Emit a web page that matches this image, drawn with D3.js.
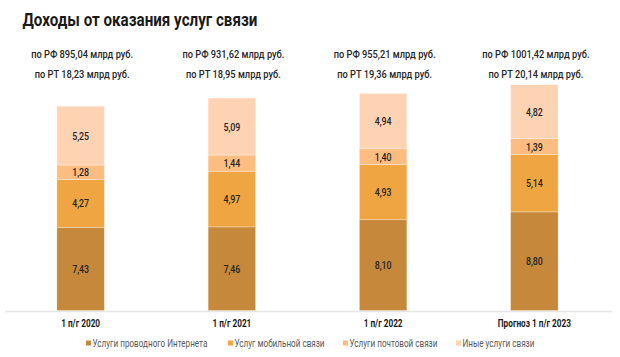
<!DOCTYPE html>
<html><head><meta charset="utf-8">
<script src="https://cdn.jsdelivr.net/npm/d3@7"></script>
<style>
html,body{margin:0;padding:0;background:#fff;}
svg{display:block;font-family:"Roboto","Noto Sans",sans-serif;}
</style></head>
<body>
<svg id="chart" width="620" height="357"></svg>
<script>
const categories = ["1 п/г 2020", "1 п/г 2021", "1 п/г 2022", "Прогноз 1 п/г 2023"];
const seriesNames = ["Услуги проводного Интернета", "Услуг мобильной связи", "Услуги почтовой связи", "Иные услуги связи"];
const internet = [7.43, 7.46, 8.10, 8.80];
const mobile   = [4.27, 4.97, 4.93, 5.14];
const postal   = [1.28, 1.44, 1.40, 1.39];
const other    = [5.25, 5.09, 4.94, 4.82];
const rfTotals = ["895,04", "931,62", "955,21", "1001,42"];
const rtTotals = ["18,23", "18,95", "19,36", "20,14"];
const colors = ["#C6883A", "#EFA542", "#FDBD80", "#FED3B3"];

const series = [internet, mobile, postal, other];
const rows = categories.map((c, i) => {
  const r = {cat: c};
  seriesNames.forEach((s, j) => r[s] = series[j][i]);
  return r;
});
const stacked = d3.stack().keys(seriesNames)(rows);

const svg = d3.select("#chart");
const x = d3.scaleBand().domain(categories).range([5, 610]).paddingInner(0.686).paddingOuter(0.343);
const yMax = d3.max(rows, r => d3.sum(seriesNames, s => r[s]));
const y = d3.scaleLinear().domain([0, yMax]).range([310.5, 84.7]);
const fmt = v => d3.format(".2f")(v).replace(".", ",");

// condensed text helper: scale horizontally so that a reference string matches a target width
function condense(sel, refNode, targetW) {
  const k = targetW / refNode.getComputedTextLength();
  sel.each(function() {
    const t = d3.select(this);
    const tx = +t.attr("data-x"), ty = +t.attr("data-y");
    t.attr("x", 0).attr("y", 0).attr("transform", `translate(${tx},${ty}) scale(${k},1)`);
  });
}
function txt(parent, x0, y0, s, cls) {
  return parent.append("text").attr("class", cls).attr("data-x", x0).attr("data-y", y0)
    .attr("x", x0).attr("y", y0).text(s);
}

// title
const title = txt(svg, 22.5, 26, "Доходы от оказания услуг связи", "title")
  .attr("font-size", 18).attr("font-weight", "bold").attr("fill", "#1a1a1a");
condense(svg.selectAll(".title"), title.node(), 235);

// axis baseline
svg.append("line").attr("x1", 5).attr("x2", 612).attr("y1", 311.5).attr("y2", 311.5)
  .attr("stroke", "#E6E6E6").attr("stroke-width", 1.5);

// bars
const g = svg.append("g");
stacked.forEach((layer, j) => {
  g.selectAll(null).data(layer).enter().append("rect")
    .attr("x", d => x(d.data.cat))
    .attr("width", x.bandwidth())
    .attr("y", d => y(d[1]))
    .attr("height", d => y(d[0]) - y(d[1]))
    .attr("fill", colors[j])
    .attr("stroke", "#ffffff").attr("stroke-opacity", 0.5).attr("stroke-width", 0.6);
  layer.forEach(d => {
    txt(g, x(d.data.cat) + x.bandwidth() / 2, (y(d[0]) + y(d[1])) / 2 + 4, fmt(d[1] - d[0]), "dl")
      .attr("text-anchor", "middle").attr("font-size", 11.5).attr("font-weight", 500).attr("fill", "#262626");
  });
});
const dlRef = g.selectAll(".dl").filter(function() { return this.textContent === "7,43"; }).node();
condense(g.selectAll(".dl"), dlRef, 17);

// totals above
categories.forEach((c, i) => {
  const cx = x(c) + x.bandwidth() / 2 + 1.5;
  txt(svg, cx, 58, "по РФ " + rfTotals[i] + " млрд руб.", "tot")
    .attr("text-anchor", "middle").attr("font-size", 11.5).attr("font-weight", 500).attr("fill", "#262626");
  txt(svg, cx, 78, "по РТ " + rtTotals[i] + " млрд руб.", "tot")
    .attr("text-anchor", "middle").attr("font-size", 11.5).attr("font-weight", 500).attr("fill", "#262626");
});
condense(svg.selectAll(".tot"), svg.select(".tot").node(), 102);

// category axis
const xAxis = d3.axisBottom(x).tickSize(0).tickPadding(0);
const ax = svg.append("g").attr("transform", "translate(0,319)").call(xAxis);
ax.select(".domain").remove();
ax.selectAll("text").attr("font-size", 11).attr("font-weight", "bold").attr("fill", "#1a1a1a")
  .attr("font-family", "Roboto, 'Noto Sans', sans-serif").attr("dy", "0.71em");
{
  const first = ax.select("text").node();
  const k = 39 / first.getComputedTextLength();
  ax.selectAll("text").attr("transform", `scale(${k},1)`);
}

// legend
const legX = [86, 228, 343, 456];
const legTexts = [];
seriesNames.forEach((s, j) => {
  const lg = svg.append("g").attr("transform", `translate(${legX[j]},343)`);
  lg.append("rect").attr("x", 0).attr("y", -2.5).attr("width", 5).attr("height", 5).attr("fill", colors[j]);
  txt(lg, 6.5, 3.5, s, "leg").attr("font-size", 10.5).attr("fill", "#595959");
});
condense(svg.selectAll(".leg"), svg.select(".leg").node(), 115);
</script>
</body></html>
